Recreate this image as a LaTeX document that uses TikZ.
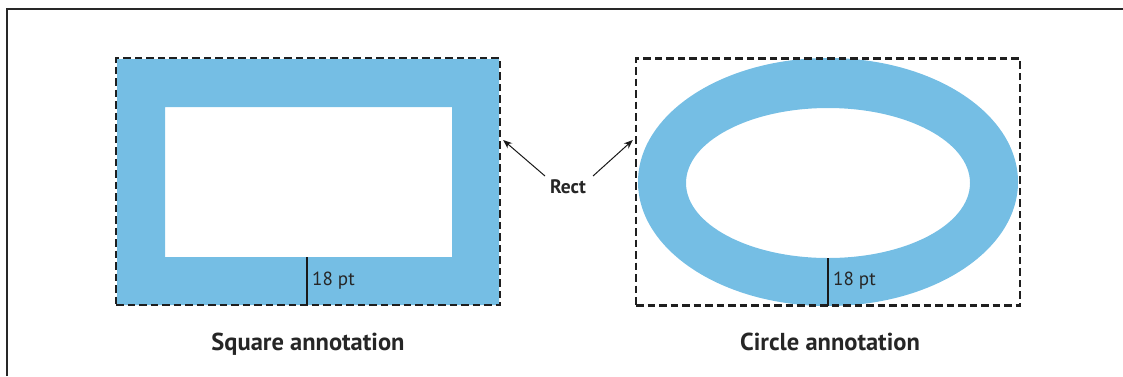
\documentclass[tikz,border=0pt]{standalone}
\usepackage{fontspec}
\setmainfont{PT Sans}
\usetikzlibrary{arrows.meta,shapes.geometric}
\definecolor{annblue}{RGB}{117,190,228}
\definecolor{frameg}{RGB}{40,40,40}
\tikzset{
  dashbox/.style={draw=black!88, line width=2.3pt, dash pattern=on 7.5pt off 4pt, inner sep=0pt, minimum width=384pt, minimum height=247pt},
  measure/.style={draw=black!90, line width=1.6pt},
  measurelabel/.style={font=\fontsize{19}{21}\selectfont, text=black!85, anchor=west, inner sep=0pt},
  caption/.style={font=\bfseries\fontsize{24.5}{27}\selectfont, text=black!85, anchor=base},
  pointer/.style={draw=black!90, line width=1pt, -{Stealth[length=9pt,width=7pt]}}
}
\begin{document}
\begin{tikzpicture}[x=1pt,y=-1pt]
\useasboundingbox (0,0) rectangle (1123,376);
% frame
\draw[frameg, line width=1.5pt] (7,376) -- (7,9) -- (1123,9);
% left: square annotation
\fill[annblue, even odd rule] (117,59) rectangle (499,305) (165,107) rectangle (452,257);
\node[dashbox] (rectL) at (308,181.5) {};
\coordinate (mL1) at (307,257);
\coordinate (mL2) at (307,305);
\draw[measure] (mL1) -- (mL2);
\node[measurelabel] (lblL) at (312,281) {18 pt};
% right: circle annotation
\fill[annblue, even odd rule] (828,182) ellipse [x radius=190, y radius=124] (828,183) ellipse [x radius=142, y radius=75];
\node[dashbox] (rectR) at (828,182) {};
\coordinate (mR1) at (828,258);
\coordinate (mR2) at (828,306);
\draw[measure] (mR1) -- (mR2);
\node[measurelabel] (lblR) at (833,281) {18 pt};
% Rect label and pointers
\node[font=\bfseries\fontsize{19.5}{22}\selectfont, text=black!85] (rect) at (568,187) {Rect};
\coordinate (tL) at ([xshift=2pt]rectL.east |- 0,140);
\coordinate (tR) at ([xshift=-2pt]rectR.west |- 0,140);
\draw[pointer] (545,176) -- (tL);
\draw[pointer] (593,176) -- (tR);
% captions
\node[caption] (capL) at (308,350) {Square annotation};
\node[caption] (capR) at (830,350) {Circle annotation};
\end{tikzpicture}
\end{document}
